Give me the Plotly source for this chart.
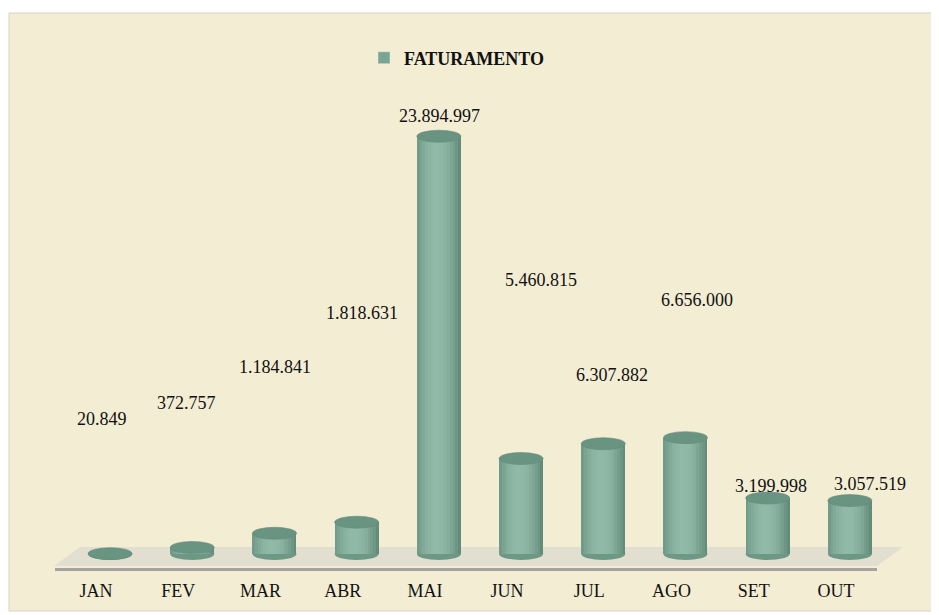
import math
import plotly.graph_objects as go

# ---------------- data ----------------
months = ["JAN", "FEV", "MAR", "ABR", "MAI", "JUN", "JUL", "AGO", "SET", "OUT"]
faturamento = [20849, 372757, 1184841, 1818631, 23894997, 5460815, 6307882, 6656000, 3199998, 3057519]
series_name = "FATURAMENTO"

# ---------------- layout constants (screen pixels, page has 8px body margin) ----------------
W, H = 939, 615
OX, OY = 8, 8
PLOT_LEFT, PLOT_RIGHT = 55, 877         # screen px
PLOT_TOP, AXIS_PX = 100, 568            # screen px
L = PLOT_LEFT - OX
R = W - (PLOT_RIGHT - OX)
T = PLOT_TOP - OY
B = H - (AXIS_PX - OY)
PLOT_W = PLOT_RIGHT - PLOT_LEFT
PLOT_H = AXIS_PX - PLOT_TOP
Y0PX = 554                              # screen row of value zero
UNIT = 57200                            # data units per pixel

def ydata(py):
    return (Y0PX - py) * UNIT

def px2paper_x(px):
    return (px - PLOT_LEFT) / PLOT_W

def px2paper_y(py):
    return (AXIS_PX - py) / PLOT_H

# label centres (screen pixels) as placed in the reference
label_pos_px = [(102, 419), (186, 403), (275, 367), (362, 313), (439, 116),
                (541, 280), (612, 375), (697, 300), (771, 486), (870, 484)]

FONT = "Liberation Serif, Times New Roman, serif"
BG = "#F3EDD3"

fig = go.Figure()

# cylinder body built from shaded vertical strips
BAR_W = 0.535
BAR_OFF = -0.0975
N = 16
dark_l = (86, 126, 108)
light = (145, 186, 168)
for k in range(N):
    t = (k + 0.5) / N
    s = math.cos((t - 0.45) / 0.6 * math.pi / 2)
    s = max(0.0, min(1.0, s)) ** 0.9
    col = tuple(int(dark_l[c] + (light[c] - dark_l[c]) * s) for c in range(3))
    fig.add_trace(go.Bar(
        x=list(range(len(months))), y=faturamento,
        width=BAR_W / N * 1.6 if k < N - 1 else BAR_W / N,
        offset=BAR_OFF + k * BAR_W / N,
        marker=dict(color="rgb(%d,%d,%d)" % col, line=dict(width=0)),
        showlegend=False, hoverinfo="skip",
    ))

# legend entry
fig.add_trace(go.Bar(
    x=[None], y=[None], name="<b>" + series_name + "</b>",
    marker=dict(color="#7BA592"), showlegend=True,
))

shapes = []
# outer frame
shapes.append(dict(type="rect", xref="paper", yref="paper",
                   x0=px2paper_x(9), x1=px2paper_x(937),
                   y0=px2paper_y(611), y1=px2paper_y(13),
                   fillcolor=BG, line=dict(color="#D8D3C6", width=1), layer="below"))
# floor
path = "M {} {} L {} {} L {} {} L {} {} Z".format(
    px2paper_x(54), px2paper_y(566), px2paper_x(877), px2paper_y(566),
    px2paper_x(903), px2paper_y(547), px2paper_x(80), px2paper_y(547))
shapes.append(dict(type="path", xref="paper", yref="paper", path=path,
                   fillcolor="#E3DFD0", line=dict(width=0), layer="below"))

EH = 6 * UNIT
for i, v in enumerate(faturamento):
    x0 = i + BAR_OFF
    x1 = x0 + BAR_W
    shapes.append(dict(type="circle", xref="x", yref="y", x0=x0, x1=x1,
                       y0=-EH, y1=EH, fillcolor="#6E9886",
                       line=dict(width=0), layer="below"))
    shapes.append(dict(type="circle", xref="x", yref="y", x0=x0, x1=x1,
                       y0=v - EH, y1=v + EH, fillcolor="#6A9482",
                       line=dict(color="#5F8A78", width=0.6), layer="above"))

annotations = []
for v, (px, py) in zip(faturamento, label_pos_px):
    annotations.append(dict(
        xref="paper", yref="paper", x=px2paper_x(px), y=px2paper_y(py),
        text=f"{v:,}".replace(",", "."), showarrow=False,
        xanchor="center", yanchor="middle",
        font=dict(family=FONT, size=18, color="#111111")))

fig.update_layout(
    width=W, height=H,
    margin=dict(l=L, r=R, t=T, b=B),
    paper_bgcolor="white",
    plot_bgcolor="rgba(0,0,0,0)",
    barmode="overlay",
    bargap=0,
    shapes=shapes,
    annotations=annotations,
    showlegend=True,
    legend=dict(orientation="h", x=px2paper_x(364), y=px2paper_y(58),
                xanchor="left", yanchor="middle", bgcolor="rgba(0,0,0,0)",
                font=dict(family=FONT, size=18, color="#111111"),
                itemwidth=30),
    xaxis=dict(
        tickmode="array", tickvals=list(range(len(months))), ticktext=months,
        range=[-0.5, len(months) - 0.5],
        showline=True, linecolor="#A3A3A3", linewidth=3,
        showgrid=False, zeroline=False, ticks="",
        ticklabelstandoff=4,
        tickfont=dict(family=FONT, size=18, color="#111111"),
        fixedrange=True,
    ),
    yaxis=dict(
        range=[ydata(AXIS_PX), ydata(PLOT_TOP)],
        showline=False, showgrid=False, zeroline=False,
        showticklabels=False, ticks="", fixedrange=True,
    ),
)

fig.write_html("out.html")
